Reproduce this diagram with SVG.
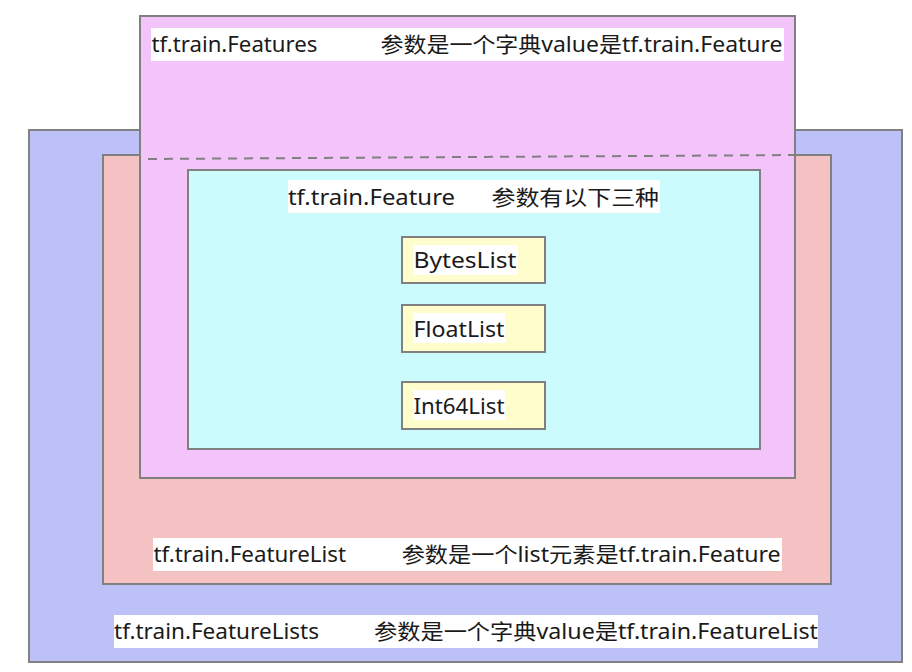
<svg xmlns="http://www.w3.org/2000/svg" width="912" height="672" viewBox="0 0 912 672">
  <style>
    .box { stroke: #808080; stroke-width: 2; }
    .bg { fill: #ffffff; }
    .lbl { font-family: "Noto Sans", "Noto Sans CJK SC", sans-serif; font-size: 21px; fill: #1a1a1a; }
  </style>
  <rect x="0" y="0" width="912" height="672" fill="#ffffff"/>
  <g id="featurelists">
    <rect class="box" x="29" y="130" width="873" height="532" fill="#BEC0F8"/>
    <rect class="bg" x="114" y="615" width="704" height="33"/>
    <text class="lbl" x="114" y="639" textLength="205" lengthAdjust="spacingAndGlyphs">tf.train.FeatureLists</text>
    <text class="lbl" x="374" y="639" textLength="444" lengthAdjust="spacingAndGlyphs">参数是一个字典value是tf.train.FeatureList</text>
  </g>
  <g id="featurelist">
    <rect class="box" x="103" y="155" width="728" height="429" fill="#F4C2C2"/>
    <rect class="bg" x="153" y="538" width="629" height="33"/>
    <text class="lbl" x="153.5" y="562" textLength="192.5" lengthAdjust="spacingAndGlyphs">tf.train.FeatureList</text>
    <text class="lbl" x="401.7" y="562" textLength="379" lengthAdjust="spacingAndGlyphs">参数是一个list元素是tf.train.Feature</text>
  </g>
  <g id="features">
    <rect class="box" x="140" y="16" width="655" height="462" fill="#F2C4FA"/>
    <rect class="bg" x="151" y="28" width="633" height="33"/>
    <text class="lbl" x="151.5" y="52" textLength="166" lengthAdjust="spacingAndGlyphs">tf.train.Features</text>
    <text class="lbl" x="380.5" y="52" textLength="402" lengthAdjust="spacingAndGlyphs">参数是一个字典value是tf.train.Feature</text>
  </g>
  <g id="connectors">
    <line x1="148" y1="159" x2="795" y2="155" stroke="#808080" stroke-width="2" stroke-dasharray="9,7"/>
  </g>
  <g id="feature">
    <rect class="box" x="188" y="170" width="572" height="279" fill="#CCFBFD"/>
    <rect class="bg" x="288" y="180" width="372" height="33"/>
    <text class="lbl" x="288" y="205" textLength="167" lengthAdjust="spacingAndGlyphs">tf.train.Feature</text>
    <text class="lbl" x="491.5" y="205" textLength="167.5" lengthAdjust="spacingAndGlyphs">参数有以下三种</text>
  </g>
  <g id="byteslist">
    <rect class="box" x="402" y="237" width="143" height="46" fill="#FFFDCC"/>
    <rect class="bg" x="413" y="245" width="105" height="30"/>
    <text class="lbl" x="413.5" y="268" textLength="103" lengthAdjust="spacingAndGlyphs">BytesList</text>
  </g>
  <g id="floatlist">
    <rect class="box" x="402" y="305" width="143" height="47" fill="#FFFDCC"/>
    <rect class="bg" x="413" y="313" width="92" height="30"/>
    <text class="lbl" x="413.5" y="337" textLength="91" lengthAdjust="spacingAndGlyphs">FloatList</text>
  </g>
  <g id="int64list">
    <rect class="box" x="402" y="382" width="143" height="47" fill="#FFFDCC"/>
    <rect class="bg" x="413" y="390" width="92" height="30"/>
    <text class="lbl" x="413.5" y="414" textLength="91" lengthAdjust="spacingAndGlyphs">Int64List</text>
  </g>
</svg>
